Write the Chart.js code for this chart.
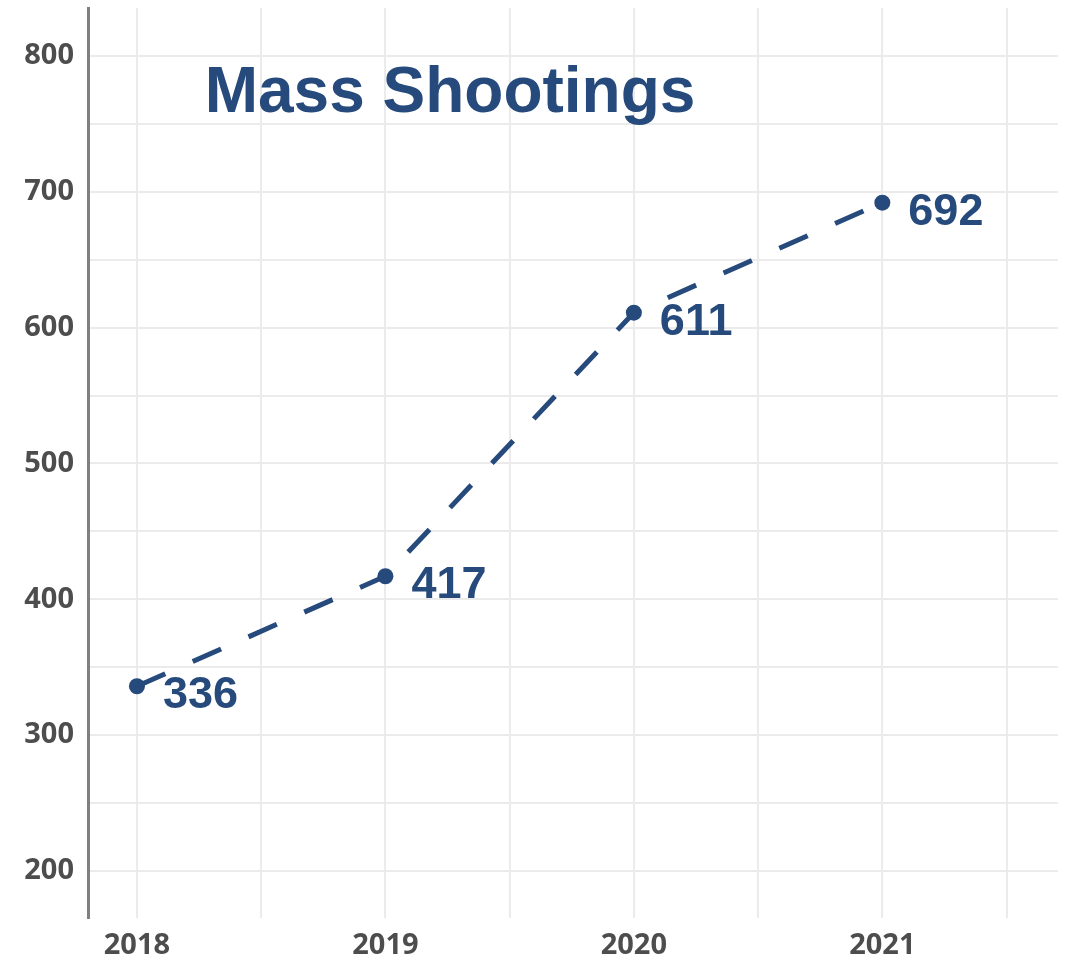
<!DOCTYPE html>
<html>
<head>
<meta charset="utf-8">
<script src="https://cdn.jsdelivr.net/npm/chart.js@4/dist/chart.umd.min.js"></script>
<style>
  html, body { margin: 0; padding: 0; background: #fff; }
  canvas { display: block; }
</style>
</head>
<body>
<canvas id="chart" width="1066" height="960"></canvas>
<script>
// Chart data
const years = [2018, 2019, 2020, 2021];
const shootings = [336, 417, 611, 692];
const xGridTicks = [2018, 2018.5, 2019, 2019.5, 2020, 2020.5, 2021, 2021.5];
const yGridTicks = [200, 250, 300, 350, 400, 450, 500, 550, 600, 650, 700, 750, 800];
const chartTitle = 'Mass Shootings';

const navy = '#264a7b';
const gridColor = '#ebebeb';
const tickFont = { family: '"Open Sans", sans-serif', weight: 'bold', size: 29 };

// draws value labels next to points and the title inside the plot
const labelPlugin = {
  id: 'labels',
  afterDatasetsDraw(chart) {
    const ctx = chart.ctx;
    const meta = chart.getDatasetMeta(0);
    ctx.save();
    ctx.fillStyle = navy;
    ctx.font = 'bold 45px "Liberation Sans", Arial, sans-serif';
    ctx.textAlign = 'left';
    ctx.textBaseline = 'alphabetic';
    meta.data.forEach((pt, i) => {
      ctx.fillText(String(shootings[i]), pt.x + 26, pt.y + 22);
    });
    ctx.font = 'bold 64px "Liberation Sans", Arial, sans-serif';
    ctx.textAlign = 'center';
    ctx.fillText(chartTitle, 450, 112);
    ctx.restore();
  }
};

new Chart(document.getElementById('chart'), {
  type: 'line',
  data: {
    datasets: [{
      data: years.map((y, i) => ({ x: y, y: shootings[i] })),
      borderColor: navy,
      backgroundColor: navy,
      borderWidth: 5,
      borderDash: [31, 30],
      pointRadius: 8,
      pointBorderWidth: 0,
      tension: 0
    }]
  },
  options: {
    responsive: false,
    animation: false,
    layout: { padding: { top: 7, right: 6, left: 0, bottom: 0 } },
    plugins: { legend: { display: false }, tooltip: { enabled: false } },
    scales: {
      x: {
        type: 'linear',
        min: 2017.803,
        max: 2021.707,
        afterBuildTicks: s => { s.ticks = xGridTicks.map(v => ({ value: v })); },
        afterFit: s => { s.height = 42; s.paddingLeft = 0; s.paddingRight = 0; },
        grid: { color: gridColor, lineWidth: 2, drawTicks: false },
        border: { display: false },
        ticks: {
          autoSkip: false,
          maxRotation: 0,
          padding: 10,
          color: '#4d4d4d',
          font: tickFont,
          callback: v => Number.isInteger(v) ? String(v) : ''
        }
      },
      y: {
        min: 165.4,
        max: 835.3,
        afterBuildTicks: s => { s.ticks = yGridTicks.map(v => ({ value: v })); },
        afterFit: s => { s.width = 88; s.paddingTop = 0; s.paddingBottom = 0; },
        grid: { color: gridColor, lineWidth: 2, drawTicks: false },
        border: { display: true, color: '#808080', width: 3 },
        ticks: {
          autoSkip: false,
          padding: 14,
          color: '#4d4d4d',
          font: tickFont,
          callback: v => v % 100 === 0 ? String(v) : ''
        }
      }
    }
  },
  plugins: [labelPlugin]
});
</script>
</body>
</html>
